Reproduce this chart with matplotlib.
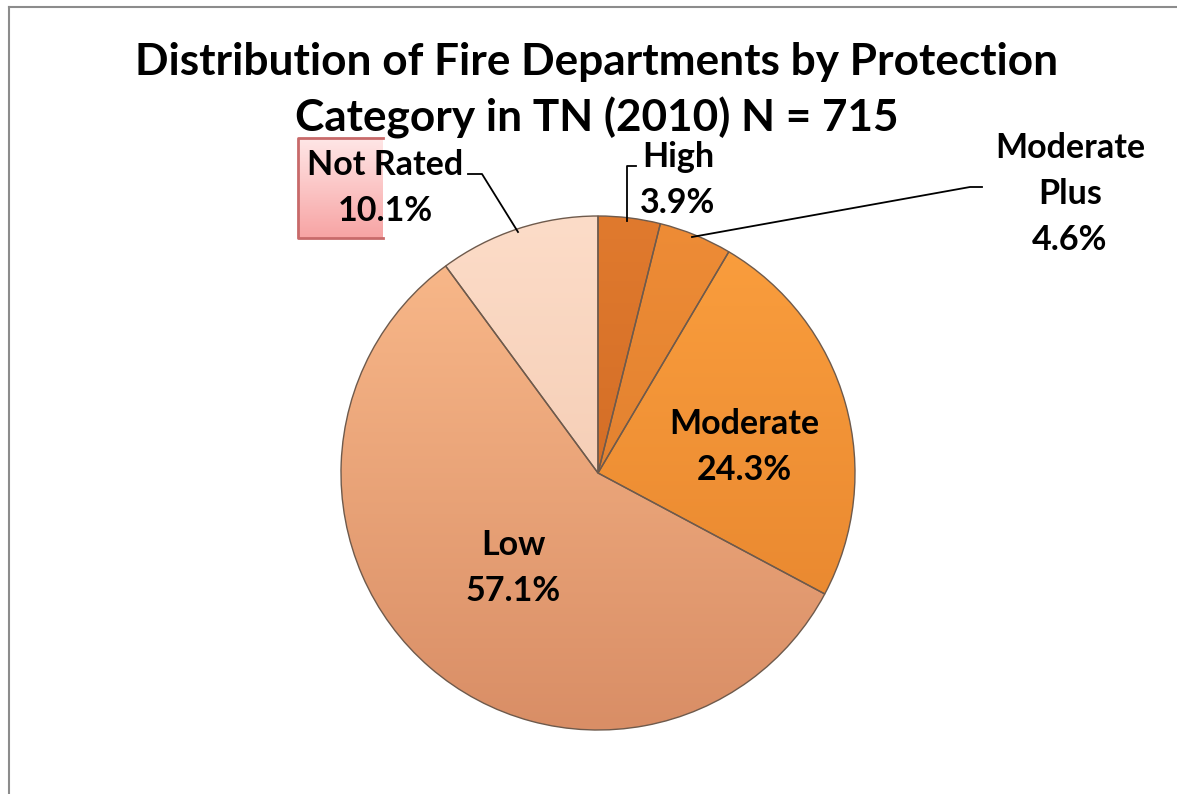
import matplotlib.pyplot as plt
import numpy as np
from matplotlib.colors import LinearSegmentedColormap
from matplotlib.lines import Line2D

# data
categories = ["High", "Moderate Plus", "Moderate", "Low", "Not Rated"]
shares = [3.9, 4.6, 24.3, 57.1, 10.1]

# top / bottom colours of each wedge (vertical shading)
top_colors = ["#e07a2e", "#ee8c36", "#fb9f3e", "#fbbb8c", "#fcdcc8"]
bottom_colors = ["#c8621f", "#d8782a", "#e4822c", "#d98e66", "#f0c2a6"]

W, H = 1177, 794
plt.rcParams['font.family'] = ['Lato', 'DejaVu Sans']
plt.rcParams['font.weight'] = 'bold'

fig = plt.figure(figsize=(W / 100, H / 100), dpi=100)
fig.patch.set_facecolor('white')


def fx(x):
    return x / W


def fy(y):
    return 1 - y / H


# outer frame (runs off the right and bottom edges)
fig.add_artist(Line2D([fx(9), fx(9)], [fy(7), fy(800)], color='#8c8c8c', lw=1.5))
fig.add_artist(Line2D([fx(9), fx(1180)], [fy(7), fy(7)], color='#8c8c8c', lw=1.5))

# pink box behind "Not Rated" (cut off on the right)
grad_ax = fig.add_axes([fx(298), fy(238), fx(383) - fx(298), fy(138) - fy(238)])
pink = LinearSegmentedColormap.from_list('pink', ['#ffe6e6', '#f7a4a4'])
grad_ax.imshow(np.linspace(0, 1, 100).reshape(-1, 1), aspect='auto', cmap=pink,
               extent=[0, 1, 0, 1])
grad_ax.set_xlim(0, 1)
grad_ax.set_ylim(0, 1)
grad_ax.axis('off')
grad_ax.plot([1, 0, 0, 1], [1, 1, 0, 0], color='#c86a6a', lw=2, clip_on=False)

# pie axes
cx, cy, r = 598, 473, 257
ax = fig.add_axes([fx(cx - r), fy(cy + r), 2 * r / W, 2 * r / H])
wedges, _ = ax.pie(shares, startangle=90, counterclock=False,
                   colors=['none'] * len(shares),
                   wedgeprops=dict(edgecolor='#6e5a4c', linewidth=1.0))
yy = np.linspace(1, 0, 200).reshape(-1, 1)
for w, c1, c2 in zip(wedges, top_colors, bottom_colors):
    cmap = LinearSegmentedColormap.from_list('g', [c2, c1])
    im = ax.imshow(yy, extent=[-1, 1, -1, 1], cmap=cmap, aspect='auto',
                   vmin=0, vmax=1, zorder=0)
    im.set_clip_path(w)
    w.set_zorder(2)
ax.set_xlim(-1, 1)
ax.set_ylim(-1, 1)
ax.set_aspect('equal')
ax.axis('off')

# title
fig.text(fx(597), fy(62), "Distribution of Fire Departments by Protection",
         ha='center', va='center', fontsize=31.8)
fig.text(fx(597), fy(118), "Category in TN (2010) N = 715",
         ha='center', va='center', fontsize=31.8)

# slice labels
lab = dict(ha='center', va='center', fontsize=24.5, linespacing=1.52)
fig.text(fx(385), fy(188), "Not Rated\n10.1%", **lab)
fig.text(fx(678), fy(180), "High\n3.9%", **lab)
fig.text(fx(1070), fy(194), "Moderate\nPlus\n4.6%", **lab)
fig.text(fx(744), fy(447), "Moderate\n24.3%", **lab)
fig.text(fx(513), fy(568), "Low\n57.1%", **lab)

# leader lines
for xs, ys in [([468, 482, 518], [174, 174, 232]),
               ([636, 627, 627], [166, 166, 221]),
               ([982, 970, 692], [187, 187, 237])]:
    fig.add_artist(Line2D([fx(x) for x in xs], [fy(y) for y in ys],
                          color='black', lw=1.3))

fig.savefig("out.png", dpi=100)
